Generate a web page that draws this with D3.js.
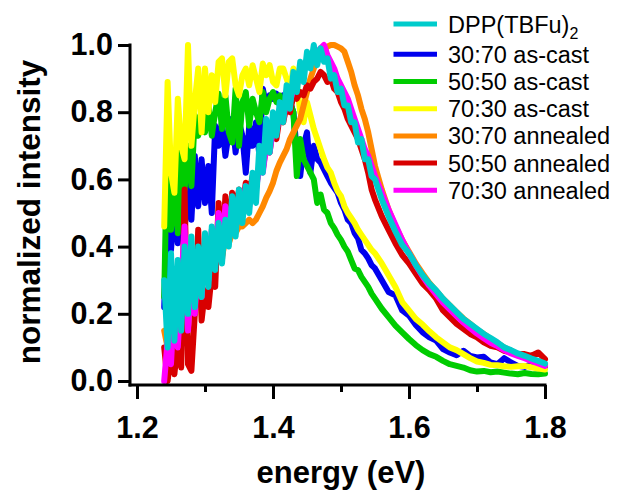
<!DOCTYPE html>
<html><head><meta charset="utf-8">
<script src="https://cdn.jsdelivr.net/npm/d3@7"></script>
<style>body{margin:0;background:#fff;} svg{display:block;}</style>
</head><body><svg id="chart" width="617" height="496"></svg>
<script>
// ---------- data ----------
const energy = [1.240,1.245,1.250,1.255,1.260,1.265,1.270,1.275,1.280,1.285,1.290,1.295,1.300,1.305,1.310,1.315,1.320,1.325,1.330,1.335,1.340,1.345,1.350,1.355,1.360,1.365,1.370,1.375,1.380,1.385,1.390,1.395,1.400,1.405,1.410,1.415,1.420,1.425,1.430,1.435,1.440,1.445,1.450,1.455,1.460,1.465,1.470,1.475,1.480,1.485,1.490,1.495,1.500,1.505,1.510,1.515,1.520,1.525,1.530,1.535,1.540,1.545,1.550,1.56,1.57,1.58,1.59,1.60,1.61,1.62,1.63,1.64,1.65,1.66,1.67,1.68,1.69,1.70,1.71,1.72,1.73,1.74,1.75,1.76,1.77,1.78,1.79,1.80];

const dpp = [0.30,0.10,0.38,0.12,0.36,0.15,0.40,0.20,0.43,0.22,0.40,0.25,0.44,0.28,0.46,0.33,0.47,0.35,0.48,0.40,0.55,0.43,0.57,0.47,0.58,0.50,0.62,0.53,0.70,0.62,0.78,0.68,0.80,0.73,0.83,0.77,0.88,0.81,0.92,0.86,0.95,0.89,0.98,0.93,1.00,0.94,0.99,0.95,0.96,0.90,0.91,0.86,0.87,0.82,0.82,0.77,0.77,0.71,0.72,0.66,0.66,0.61,0.60,0.54,0.49,0.445,0.405,0.38,0.345,0.315,0.29,0.27,0.245,0.225,0.205,0.185,0.17,0.155,0.14,0.128,0.115,0.10,0.092,0.082,0.075,0.067,0.06,0.052];

const asCast3070 = [0.22,0.55,0.39,0.52,0.41,0.55,0.45,0.60,0.48,0.67,0.52,0.66,0.53,0.64,0.50,0.76,0.70,0.77,0.67,0.74,0.78,0.68,0.77,0.73,0.62,0.76,0.70,0.77,0.67,0.87,0.82,0.85,0.84,0.855,0.82,0.85,0.83,0.83,0.80,0.68,0.61,0.70,0.74,0.62,0.70,0.66,0.65,0.63,0.61,0.59,0.575,0.56,0.53,0.51,0.48,0.47,0.44,0.425,0.39,0.38,0.365,0.345,0.335,0.30,0.265,0.255,0.21,0.195,0.167,0.145,0.13,0.12,0.095,0.085,0.077,0.09,0.075,0.07,0.072,0.055,0.05,0.068,0.055,0.045,0.042,0.05,0.04,0.042];

const asCast5050 = [0.25,0.77,0.45,0.60,0.44,0.70,0.57,0.70,0.58,0.79,0.73,0.81,0.74,0.82,0.73,0.80,0.855,0.75,0.85,0.74,0.71,0.87,0.70,0.83,0.86,0.76,0.84,0.80,0.77,0.86,0.80,0.84,0.86,0.83,0.85,0.80,0.84,0.83,0.80,0.61,0.72,0.66,0.64,0.62,0.60,0.53,0.555,0.51,0.50,0.47,0.455,0.435,0.42,0.40,0.385,0.36,0.335,0.33,0.31,0.295,0.28,0.26,0.245,0.215,0.19,0.165,0.145,0.125,0.107,0.092,0.08,0.072,0.06,0.05,0.045,0.04,0.032,0.028,0.03,0.026,0.028,0.025,0.022,0.02,0.024,0.021,0.02,0.022];

const asCast7030 = [0.46,0.89,0.62,0.56,0.84,0.70,0.66,1.00,0.70,0.83,0.93,0.74,0.93,0.80,0.91,0.83,0.95,0.96,0.85,0.95,0.96,0.88,0.85,0.91,0.93,0.88,0.94,0.90,0.86,0.945,0.91,0.94,0.89,0.88,0.93,0.93,0.90,0.87,0.93,0.89,0.80,0.77,0.83,0.79,0.75,0.72,0.69,0.66,0.635,0.62,0.59,0.565,0.55,0.52,0.50,0.485,0.47,0.45,0.435,0.42,0.405,0.39,0.38,0.35,0.315,0.28,0.235,0.21,0.185,0.168,0.148,0.13,0.115,0.10,0.092,0.08,0.068,0.058,0.054,0.048,0.047,0.044,0.042,0.044,0.045,0.041,0.037,0.034];

const annealed3070 = [0.15,0.10,0.20,0.12,0.22,0.14,0.30,0.16,0.27,0.20,0.30,0.26,0.36,0.32,0.38,0.35,0.40,0.37,0.42,0.41,0.44,0.44,0.46,0.46,0.47,0.48,0.47,0.48,0.50,0.52,0.545,0.565,0.59,0.625,0.65,0.67,0.69,0.72,0.74,0.76,0.78,0.82,0.86,0.90,0.93,0.95,0.97,0.985,0.995,1.00,1.00,0.995,0.99,0.98,0.95,0.92,0.88,0.85,0.81,0.78,0.74,0.69,0.64,0.57,0.51,0.46,0.42,0.385,0.35,0.32,0.292,0.268,0.245,0.225,0.205,0.186,0.17,0.153,0.14,0.126,0.113,0.10,0.09,0.08,0.072,0.064,0.056,0.048];

const annealed5050 = [0.10,0.00,0.08,0.02,0.12,0.04,0.57,0.05,0.03,0.20,0.45,0.18,0.27,0.22,0.32,0.28,0.53,0.36,0.55,0.42,0.56,0.50,0.57,0.52,0.59,0.56,0.61,0.58,0.64,0.63,0.70,0.68,0.76,0.72,0.79,0.77,0.82,0.80,0.85,0.84,0.86,0.85,0.88,0.87,0.89,0.90,0.92,0.91,0.89,0.90,0.87,0.86,0.83,0.81,0.78,0.76,0.74,0.72,0.69,0.66,0.62,0.57,0.54,0.49,0.45,0.41,0.375,0.35,0.32,0.29,0.27,0.245,0.21,0.19,0.17,0.155,0.14,0.13,0.115,0.105,0.10,0.09,0.085,0.08,0.08,0.075,0.085,0.065];

const annealed7030 = [0.00,0.12,0.05,0.25,0.10,0.28,0.46,0.15,0.30,0.20,0.38,0.25,0.40,0.30,0.45,0.35,0.50,0.40,0.52,0.44,0.53,0.46,0.55,0.50,0.58,0.52,0.60,0.57,0.64,0.62,0.70,0.68,0.75,0.74,0.80,0.78,0.84,0.83,0.87,0.88,0.91,0.92,0.95,0.95,0.97,0.98,0.99,1.00,0.97,0.95,0.93,0.90,0.88,0.86,0.84,0.81,0.78,0.75,0.72,0.69,0.67,0.64,0.61,0.56,0.51,0.465,0.42,0.38,0.345,0.312,0.283,0.258,0.233,0.213,0.193,0.174,0.157,0.141,0.127,0.114,0.104,0.092,0.082,0.075,0.068,0.06,0.052,0.045];

const legendLabels = ["DPP(TBFu)", "30:70 as-cast", "50:50 as-cast", "70:30 as-cast", "30:70 annealed", "50:50 annealed", "70:30 annealed"];
const legendColors = ["#00CCCC", "#0000EE", "#00CC00", "#FFFF00", "#FF8800", "#D80000", "#FF00FF"];
const legendSeries = [dpp, asCast3070, asCast5050, asCast7030, annealed3070, annealed5050, annealed7030];
const drawOrder = [1, 2, 3, 4, 5, 6, 0];   // cyan on top

const yTicks = [0.0, 0.2, 0.4, 0.6, 0.8, 1.0];
const xMajorTicks = [1.2, 1.4, 1.6, 1.8];
const xMinorTicks = [1.3, 1.5, 1.7];

// ---------- drawing ----------
const svg = d3.select("#chart");
const x = d3.scaleLinear().domain([1.2, 1.8]).range([137, 545]);
const y = d3.scaleLinear().domain([0, 1]).range([381, 45]);
const FONT = "'Liberation Sans', Arial, Helvetica, sans-serif";

const line = d3.line().x((d, i) => x(energy[i])).y(d => y(d));

svg.append("g").selectAll("path")
  .data(drawOrder)
  .join("path")
  .attr("d", k => line(legendSeries[k]))
  .attr("fill", "none")
  .attr("stroke", k => legendColors[k])
  .attr("stroke-width", 6)
  .attr("stroke-linejoin", "round")
  .attr("stroke-linecap", "round");

// y axis
const gy = svg.append("g").attr("transform", "translate(130,0)")
  .call(d3.axisLeft(y).tickValues(yTicks).tickFormat(d3.format(".1f")).tickSize(12).tickPadding(5).tickSizeOuter(0));
gy.select(".domain").remove();
gy.selectAll(".tick line").attr("stroke", "#000").attr("stroke-width", 3);
gy.selectAll(".tick text").attr("font-family", FONT).attr("font-weight", "bold").attr("font-size", 30.5).attr("fill", "#000");

// x axis
const gx = svg.append("g").attr("transform", "translate(0,385)")
  .call(d3.axisBottom(x).tickValues(xMajorTicks).tickFormat(d3.format(".1f")).tickSize(14).tickPadding(17).tickSizeOuter(0));
gx.select(".domain").remove();
gx.selectAll(".tick line").attr("stroke", "#000").attr("stroke-width", 3);
gx.selectAll(".tick text").attr("font-family", FONT).attr("font-weight", "bold").attr("font-size", 30.5).attr("fill", "#000");

const gxm = svg.append("g").attr("transform", "translate(0,385)")
  .call(d3.axisBottom(x).tickValues(xMinorTicks).tickFormat("").tickSize(7).tickSizeOuter(0));
gxm.select(".domain").remove();
gxm.selectAll(".tick line").attr("stroke", "#000").attr("stroke-width", 3);

// axis lines
svg.append("line").attr("x1", 130).attr("x2", 130).attr("y1", 43.5).attr("y2", 386.5)
  .attr("stroke", "#000").attr("stroke-width", 3);
svg.append("line").attr("x1", 128.5).attr("x2", 546.5).attr("y1", 385).attr("y2", 385)
  .attr("stroke", "#000").attr("stroke-width", 3);

// axis titles
svg.append("text").attr("x", 341).attr("y", 483).attr("text-anchor", "middle")
  .attr("font-family", FONT).attr("font-weight", "bold").attr("font-size", 31)
  .text("energy (eV)");
svg.append("text").attr("transform", "translate(40,212) rotate(-90)").attr("text-anchor", "middle")
  .attr("font-family", FONT).attr("font-weight", "bold").attr("font-size", 31.5)
  .text("normalized intensity");

// legend
const ly = i => i === 0 ? 24 : 54.3 + (i - 1) * 27.2;
const lg = svg.append("g");
legendLabels.forEach((lab, i) => {
  lg.append("line").attr("x1", 393.5).attr("x2", 437).attr("y1", ly(i)).attr("y2", ly(i))
    .attr("stroke", legendColors[i]).attr("stroke-width", 5);
  const t = lg.append("text").attr("x", 448).attr("y", ly(i) + 8.5)
    .attr("font-family", FONT).attr("font-size", 23.5).attr("fill", "#000").text(lab);
  if (i === 0) t.append("tspan").attr("font-size", 16).attr("dy", 6).text("2");
});
</script>
</body></html>
